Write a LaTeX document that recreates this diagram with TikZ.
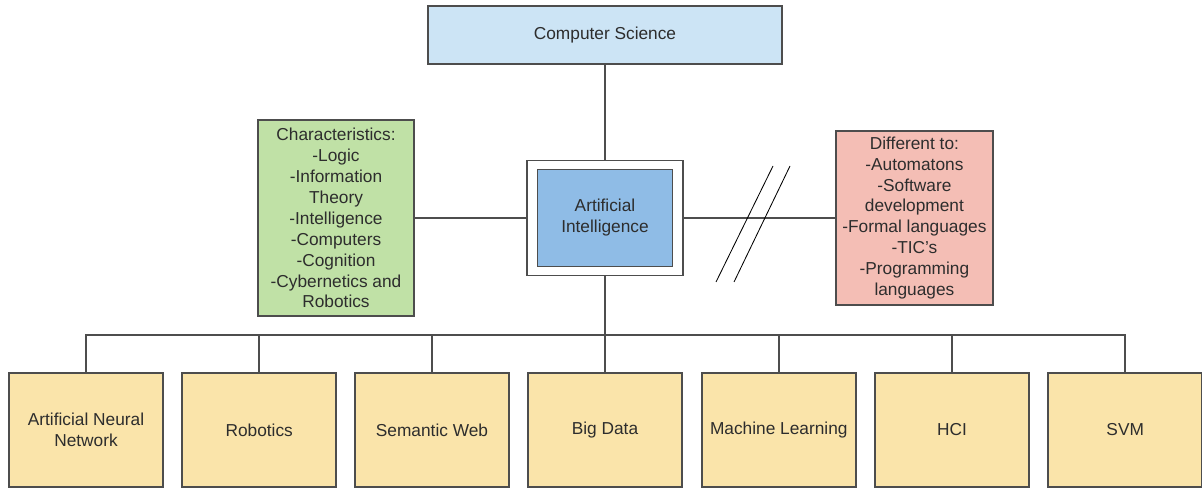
\documentclass[tikz,border=0pt]{standalone}
\usepackage{fontspec}
\setmainfont{Liberation Sans}
\usepackage{tikz}
\usetikzlibrary{calc}

\definecolor{csblue}{RGB}{204,228,245}
\definecolor{aiblue}{RGB}{143,188,230}
\definecolor{chargreen}{RGB}{192,225,166}
\definecolor{diffred}{RGB}{244,190,181}
\definecolor{fieldyellow}{RGB}{250,228,170}
\definecolor{edgegray}{RGB}{77,77,77}
\definecolor{textgray}{RGB}{45,45,45}

\tikzset{
	box/.style={draw=edgegray, line width=1.2pt, align=center, text=textgray,
		font=\fontsize{12.3}{14.9}\selectfont, inner sep=0pt},
	link/.style={edgegray, line width=1.2pt},
	field/.style={box, fill=fieldyellow, minimum width=3.85cm, minimum height=2.85cm}
}

\begin{document}
\begin{tikzpicture}
		
		\useasboundingbox (0, 0) rectangle (30.05, 12.2);
		
		% Define the main boxes
		\node[box, fill=csblue, minimum width=8.85cm, minimum height=1.45cm] (cs) at (15.125, 11.325) {Computer Science};
		\node[box, minimum width=3.9cm, minimum height=2.875cm] (aiframe) at (15.125, 6.75) {};
		\node[box, fill=aiblue, minimum width=3.375cm, minimum height=2.425cm] (ai) at (15.125, 6.75) {Artificial\\Intelligence};
		\node[box, fill=chargreen, minimum width=3.9cm, minimum height=4.9cm] (char) at (8.4, 6.75) {Characteristics:\\-Logic\\-Information\\Theory\\-Intelligence\\-Computers\\-Cognition\\-Cybernetics and\\Robotics};
		\node[box, fill=diffred, minimum width=3.925cm, minimum height=4.35cm] (diff) at (22.86, 6.75) {Different to:\\-Automatons\\-Software\\development\\-Formal languages\\-TIC's\\-Programming\\languages};
		
		% Draw the fields of the bottom row
		\node[field] (f1) at (2.15, 1.45) {Artificial Neural\\Network};
		\node[field] (f2) at (6.48, 1.45) {Robotics};
		\node[field] (f3) at (10.8, 1.45) {Semantic Web};
		\node[field] (f4) at (15.125, 1.45) {Big Data};
		\node[field] (f5) at (19.47, 1.45) {Machine Learning};
		\node[field] (f6) at (23.8, 1.45) {HCI};
		\node[field] (f7) at (28.13, 1.45) {SVM};
		
		% Draw the links
		\draw[link] (cs) -- (aiframe);
		\draw[link] (char) -- (aiframe);
		\draw[link] (aiframe) -- (diff);
		\coordinate (bus) at (15.125, 3.825);
		\draw[link] (aiframe) -- (bus);
		\foreach \i in {1,...,7}
			\draw[link] (bus) -| (f\i.north);
		
		% The "not the same" mark across the link
		\draw[black, line width=0.6pt] (17.9, 5.15) -- (19.325, 8.05);
		\draw[black, line width=0.6pt] (18.35, 5.15) -- (19.75, 8.05);
		
	\end{tikzpicture}
\end{document}
